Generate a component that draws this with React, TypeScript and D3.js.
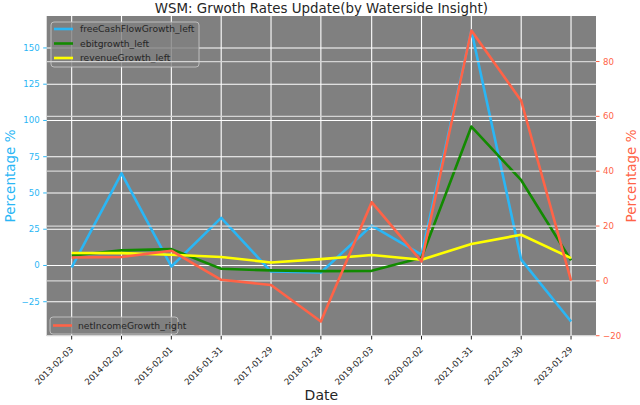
import React from "react";
import * as d3 from "d3";

const dates: string[] = [
  "2013-02-03", "2014-02-02", "2015-02-01", "2016-01-31", "2017-01-29", "2018-01-28",
  "2019-02-03", "2020-02-02", "2021-01-31", "2022-01-30", "2023-01-29",
];
const freeCashFlowGrowth: number[] = [-1.4, 63.5, -0.7, 32.8, -4.2, -4.8, 27.5, 7.4, 162.0, 4.0, -38.6];
const ebitGrowth: number[] = [6.9, 10.4, 11.3, -2.3, -3.4, -3.9, -3.7, 5.3, 95.8, 58.8, 3.5];
const revenueGrowth: number[] = [8.6, 8.5, 7.4, 5.8, 2.1, 4.4, 7.2, 4.0, 14.8, 21.2, 5.1];
const netIncomeGrowth: number[] = [8.5, 8.7, 11.0, 0.4, -1.5, -14.8, 28.7, 7.1, 91.3, 65.7, 0.1];
const leftTicks: number[] = [-25, 0, 25, 50, 75, 100, 125, 150];
const rightTicks: number[] = [-20, 0, 20, 40, 60, 80];

const W = 640, H = 405;
const L = 46.7, R = 596, T = 16, B = 336;
const BLUE = "#2ab6f5", GREEN = "#128a00", YELLOW = "#ffff00", RED = "#ff6347";
const FONT = "DejaVu Sans, sans-serif";

function padded(vals: number[]): [number, number] {
  const mn = d3.min(vals)!, mx = d3.max(vals)!;
  const p = (mx - mn) * 0.05;
  return [mn - p, mx + p];
}

export default function App() {
  const parse = d3.timeParse("%Y-%m-%d");
  const xs = dates.map((d) => parse(d)!);
  const t0 = +xs[0], t1 = +xs[xs.length - 1];
  const tp = (t1 - t0) * 0.05;
  const x = d3.scaleTime().domain([new Date(t0 - tp), new Date(t1 + tp)]).range([L, R]);
  const yL = d3.scaleLinear()
    .domain(padded([...freeCashFlowGrowth, ...ebitGrowth, ...revenueGrowth]))
    .range([B, T]);
  const yR = d3.scaleLinear().domain(padded(netIncomeGrowth)).range([B, T]);

  const lineL = (vals: number[]) =>
    d3.line<number>().x((_, i) => x(xs[i])).y((v) => yL(v))(vals)!;
  const lineR = (vals: number[]) =>
    d3.line<number>().x((_, i) => x(xs[i])).y((v) => yR(v))(vals)!;

  const fmt = (v: number) => (v < 0 ? "\u2212" + Math.abs(v) : String(v));

  const leftSeries = [
    { name: "freeCashFlowGrowth_left", vals: freeCashFlowGrowth, color: BLUE },
    { name: "ebitgrowth_left", vals: ebitGrowth, color: GREEN },
    { name: "revenueGrowth_left", vals: revenueGrowth, color: YELLOW },
  ];

  return (
    <svg width={W} height={H} style={{ position: "absolute", left: 0, top: 0, background: "#fff" }} fontFamily={FONT}>
      <rect x={0} y={0} width={W} height={H} fill="#fff" />
      {/* title */}
      <text x={(L + R) / 2} y={13} textAnchor="middle" fontSize={13.4} fill="#262626">
        WSM: Grwoth Rates Update(by Waterside Insight)
      </text>
      {/* plot background */}
      <rect x={L} y={T} width={R - L} height={B - T} fill="#808080" />
      {/* ax1 grid */}
      {xs.map((d, i) => (
        <line key={"gx" + i} x1={x(d)} x2={x(d)} y1={T} y2={B} stroke="#ffffff" strokeWidth={1.1} />
      ))}
      {leftTicks.map((v) => (
        <line key={"gl" + v} x1={L} x2={R} y1={yL(v)} y2={yL(v)} stroke="#ffffff" strokeWidth={1.1} />
      ))}
      {/* ax1 lines */}
      {leftSeries.map((s) => (
        <path key={s.name} d={lineL(s.vals)} fill="none" stroke={s.color} strokeWidth={2.6} strokeLinejoin="round" />
      ))}
      {/* legend 1 */}
      <g>
        <rect x={51} y={22} width={148} height={45} rx={3} fill="#808080" fillOpacity={0.8} stroke="#cccccc" strokeOpacity={0.8} />
        {leftSeries.map((s, i) => (
          <g key={"lg" + i}>
            <line x1={54} x2={73} y1={29 + i * 14.5} y2={29 + i * 14.5} stroke={s.color} strokeWidth={2.6} />
            <text x={80} y={29 + i * 14.5} dy="0.35em" fontSize={9.2} fill="#262626">{s.name}</text>
          </g>
        ))}
      </g>
      {/* ax2 grid */}
      {rightTicks.map((v) => (
        <line key={"gr" + v} x1={L} x2={R} y1={yR(v)} y2={yR(v)} stroke="#d4d4d4" strokeWidth={1.3} />
      ))}
      {/* ax2 line */}
      <path d={lineR(netIncomeGrowth)} fill="none" stroke={RED} strokeWidth={2.6} strokeLinejoin="round" />
      {/* legend 2 */}
      <g>
        <rect x={50} y={317} width={128} height={17} rx={3} fill="#808080" fillOpacity={0.8} stroke="#cccccc" strokeOpacity={0.8} />
        <line x1={53} x2={72} y1={325.5} y2={325.5} stroke={RED} strokeWidth={2.6} />
        <text x={78} y={325.5} dy="0.35em" fontSize={9.2} fill="#262626">netIncomeGrowth_right</text>
      </g>
      {/* left axis */}
      {leftTicks.map((v) => (
        <g key={"lt" + v}>
          <line x1={L - 3.5} x2={L} y1={yL(v)} y2={yL(v)} stroke={BLUE} strokeWidth={1} />
          <text x={L - 7} y={yL(v)} dy="0.35em" textAnchor="end" fontSize={8.6} fill={BLUE}>{fmt(v)}</text>
        </g>
      ))}
      <text transform={`translate(15,${(T + B) / 2}) rotate(-90)`} textAnchor="middle" fontSize={13.5} fill={BLUE}>
        Percentage %
      </text>
      {/* right axis */}
      {rightTicks.map((v) => (
        <g key={"rt" + v}>
          <line x1={R} x2={R + 3.5} y1={yR(v)} y2={yR(v)} stroke={RED} strokeWidth={1} />
          <text x={R + 7} y={yR(v)} dy="0.35em" textAnchor="start" fontSize={8.6} fill={RED}>{fmt(v)}</text>
        </g>
      ))}
      <text transform={`translate(636,${(T + B) / 2}) rotate(-90)`} textAnchor="middle" fontSize={13.5} fill={RED}>
        Percentage %
      </text>
      {/* x axis */}
      {xs.map((d, i) => (
        <g key={"xt" + i}>
          <line x1={x(d)} x2={x(d)} y1={B} y2={B + 3.5} stroke="#262626" strokeWidth={1} />
          <text transform={`translate(${x(d)},${B + 12}) rotate(-45)`} textAnchor="end" dy="0.35em" fontSize={8.6} fill="#262626">
            {dates[i]}
          </text>
        </g>
      ))}
      <text x={(L + R) / 2} y={400} textAnchor="middle" fontSize={14} fill="#262626">Date</text>
    </svg>
  );
}
